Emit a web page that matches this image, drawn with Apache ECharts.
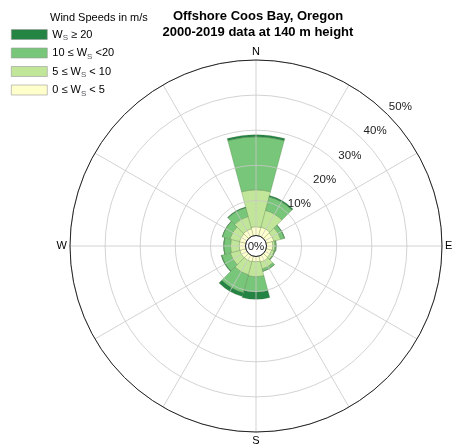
<!DOCTYPE html>
<html>
<head>
<meta charset="utf-8">
<script src="https://cdn.jsdelivr.net/npm/echarts@6/dist/echarts.min.js"></script>
<style>
  html, body { margin: 0; padding: 0; background: #fff; }
  #rose { width: 454px; height: 448px; }
</style>
</head>
<body>
<div id="rose"></div>
<script>
// sector directions (30 deg bins, centred on N, NNE ...)
var directions = ["0", "30", "60", "90", "120", "150", "180", "210", "240", "270", "300", "330"];
// percent of time in each speed bin, per direction
var ws0to5   = [2.5, 2.6, 2.3, 1.8, 1.6, 1.8, 1.5, 1.7, 1.8, 1.8, 1.9, 2.1];
var ws5to10  = [10.5, 4.9, 2.0, 0.6, 0.8, 2.0, 4.3, 3.8, 2.8, 2.5, 2.8, 3.6];
var ws10to20 = [15.1, 4.0, 1.1, 0.4, 0.2, 0.7, 4.3, 5.3, 2.5, 1.9, 2.2, 2.6];
var ws20up   = [0.6, 0.4, 0.1, 0, 0, 0, 2.1, 1.1, 0.2, 0.1, 0.1, 0.2];
var ringTicks = [0, 10, 20, 30, 40, 50];
var compass = { 0: "N", 90: "E", 180: "S", 270: "W" };

var font = "Liberation Sans";
var center = [256, 246];

var myChart = echarts.init(document.getElementById("rose"));

function bar(name, data, color) {
  return {
    name: name,
    type: "bar",
    coordinateSystem: "polar",
    polarIndex: 0,
    stack: "wind",
    barCategoryGap: "0%",
    data: data,
    z: 2,
    itemStyle: { color: color, borderColor: "rgba(70,110,60,0.45)", borderWidth: 0.6 }
  };
}

var sub = { fontSize: 8, fontFamily: font, verticalAlign: "bottom", lineHeight: 15 };
var txt = { fontSize: 11, fontFamily: font, lineHeight: 15, color: "#000" };

myChart.setOption({
  animation: false,
  title: [
    {
      text: "Offshore Coos Bay, Oregon\n2000-2019 data at 140 m height",
      left: 253,
      textAlign: "center",
      top: 3,
      textStyle: { fontFamily: font, fontSize: 13, fontWeight: "bold", lineHeight: 16.5, color: "#000" }
    },
    {
      text: "Wind Speeds in m/s",
      left: 45,
      top: 7,
      textStyle: { fontFamily: font, fontSize: 11, fontWeight: "normal", color: "#000" }
    }
  ],
  legend: {
    orient: "vertical",
    left: 6,
    top: 24,
    itemWidth: 36,
    itemHeight: 10,
    itemGap: 5.5,
    icon: "rect",
    data: ["ws20up", "ws10to20", "ws5to10", "ws0to5"],
    itemStyle: { borderColor: "#9a9a9a", borderWidth: 0.6 },
    formatter: function (name) {
      if (name === "ws20up") return "{t|W}{s|S}{t| \u2265 20}";
      if (name === "ws10to20") return "{t|10 \u2264 W}{s|S}{t| <20}";
      if (name === "ws5to10") return "{t|5 \u2264 W}{s|S}{t| < 10}";
      return "{t|0 \u2264 W}{s|S}{t| < 5}";
    },
    textStyle: { rich: { t: txt, s: sub } }
  },
  polar: [
    { center: center, radius: [10.5, 186] },
    { center: center, radius: [10.5, 186] },
    { center: center, radius: [25.2, 200.7] }
  ],
  angleAxis: [
    {
      polarIndex: 0,
      type: "category",
      data: directions,
      startAngle: 105,
      clockwise: true,
      boundaryGap: true,
      axisLine: { show: false },
      axisTick: { show: false },
      axisLabel: { show: false },
      splitLine: { show: false }
    },
    {
      polarIndex: 1,
      type: "value",
      min: 0,
      max: 360,
      interval: 30,
      startAngle: 90,
      clockwise: true,
      z: 10,
      axisLine: { show: true, lineStyle: { color: "#222", width: 1 } },
      axisTick: { show: false },
      axisLabel: {
        margin: 3,
        fontFamily: font,
        fontSize: 11,
        color: "#000",
        formatter: function (v) { return compass[v] || ""; }
      },
      splitLine: { show: true, lineStyle: { color: "#c8c8c8", width: 0.8 } }
    },
    {
      polarIndex: 2,
      type: "value",
      min: 0,
      max: 360,
      startAngle: 44,
      show: false
    }
  ],
  radiusAxis: [
    {
      polarIndex: 0,
      type: "value",
      min: 0,
      max: 50,
      axisLine: { show: false },
      axisTick: { show: false },
      axisLabel: { show: false },
      splitLine: { show: false }
    },
    {
      polarIndex: 1,
      type: "value",
      min: 0,
      max: 50,
      interval: 10,
      z: 10,
      axisLine: { show: false },
      axisTick: { show: false },
      axisLabel: { show: false },
      splitLine: { show: true, lineStyle: { color: "#c8c8c8", width: 0.8 } }
    },
    {
      polarIndex: 2,
      type: "value",
      min: ringTicks[0],
      max: ringTicks[ringTicks.length - 1],
      interval: 10,
      z: 10,
      axisLine: { show: false },
      axisTick: { show: false },
      splitLine: { show: false },
      axisLabel: {
        margin: 0,
        align: "center",
        verticalAlign: "middle",
        fontFamily: font,
        fontSize: 11.5,
        color: "#222",
        formatter: function (v) { return v ? v + "%" : ""; }
      }
    }
  ],
  graphic: [
    {
      type: "text",
      x: center[0],
      y: center[1] + 1,
      z: 100,
      style: { text: "0%", align: "center", verticalAlign: "middle", font: "11.5px " + font, fill: "#222" }
    }
  ],
  series: [
    bar("ws0to5", ws0to5, "#ffffcc"),
    bar("ws5to10", ws5to10, "#c2e699"),
    bar("ws10to20", ws10to20, "#78c679"),
    bar("ws20up", ws20up, "#238443")
  ]
});
</script>
</body>
</html>
